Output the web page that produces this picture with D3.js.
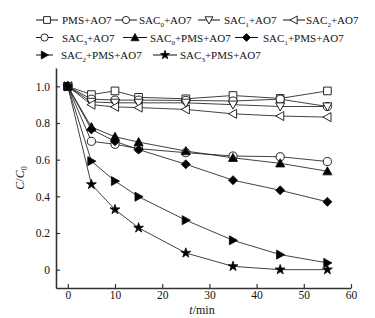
<!DOCTYPE html>
<html><head><meta charset="utf-8">
<script src="https://cdn.jsdelivr.net/npm/d3@7"></script>
<style>body{margin:0;background:#fff}svg{display:block}text{font-family:"Liberation Serif","Times New Roman",serif;fill:#111}</style>
</head><body><svg id="c" width="375" height="318"></svg>
<script>
const times = [0, 5, 10, 15, 25, 35, 45, 55];
const pmsAO7 = [1.0, 0.955, 0.975, 0.94, 0.932, 0.95, 0.934, 0.975];
const sac0AO7 = [1.0, 0.93, 0.925, 0.925, 0.923, 0.92, 0.93, 0.89];
const sac1AO7 = [1.0, 0.915, 0.91, 0.91, 0.91, 0.90, 0.89, 0.89];
const sac2AO7 = [1.0, 0.90, 0.888, 0.884, 0.874, 0.85, 0.838, 0.832];
const sac3AO7 = [1.0, 0.70, 0.684, 0.66, 0.638, 0.62, 0.616, 0.59];
const sac0PmsAO7 = [1.0, 0.778, 0.725, 0.696, 0.647, 0.61, 0.58, 0.537];
const sac1PmsAO7 = [1.0, 0.765, 0.70, 0.655, 0.575, 0.488, 0.433, 0.37];
const sac2PmsAO7 = [1.0, 0.592, 0.483, 0.398, 0.27, 0.16, 0.082, 0.037];
const sac3PmsAO7 = [1.0, 0.465, 0.328, 0.228, 0.091, 0.018, 0.0, 0.0];
const xTicks = [0, 10, 20, 30, 40, 50, 60];
const yTicks = [0, 0.2, 0.4, 0.6, 0.8, 1.0];
const yTickLabels = ["0", "0.2", "0.4", "0.6", "0.8", "1.0"];

const series = [
  {name:"PMS+AO7", sub:null, rest:null, v:pmsAO7, m:"square", fill:false},
  {name:"SAC", sub:"0", rest:"+AO7", v:sac0AO7, m:"circle", fill:false},
  {name:"SAC", sub:"1", rest:"+AO7", v:sac1AO7, m:"tridown", fill:false},
  {name:"SAC", sub:"2", rest:"+AO7", v:sac2AO7, m:"trileft", fill:false},
  {name:"SAC", sub:"3", rest:"+AO7", v:sac3AO7, m:"circle", fill:false},
  {name:"SAC", sub:"0", rest:"+PMS+AO7", v:sac0PmsAO7, m:"triup", fill:true},
  {name:"SAC", sub:"1", rest:"+PMS+AO7", v:sac1PmsAO7, m:"diamond", fill:true},
  {name:"SAC", sub:"2", rest:"+PMS+AO7", v:sac2PmsAO7, m:"triright", fill:true},
  {name:"SAC", sub:"3", rest:"+PMS+AO7", v:sac3PmsAO7, m:"star", fill:true}
];

const svg = d3.select("#c");
const L = 56, R = 351, T = 68, B = 288;
const x = d3.scaleLinear().domain([-2.5, 60]).range([L, R]);
const y = d3.scaleLinear().domain([-0.1, 1.1]).range([B, T]);

function markerPath(m, s) {
  const r = s / 2;
  switch (m) {
    case "square": return `M${-r*0.85},${-r*0.85}h${1.7*r}v${1.7*r}h${-1.7*r}Z`;
    case "circle": return d3.symbol(d3.symbolCircle, Math.PI * (r*0.9) * (r*0.9))();
    case "triup": return `M0,${-r}L${r},${r*0.8}L${-r},${r*0.8}Z`;
    case "tridown": return `M0,${r}L${r},${-r*0.8}L${-r},${-r*0.8}Z`;
    case "trileft": return `M${-r},0L${r*0.8},${-r}L${r*0.8},${r}Z`;
    case "triright": return `M${r},0L${-r*0.8},${-r}L${-r*0.8},${r}Z`;
    case "diamond": return `M0,${-r}L${r},0L0,${r}L${-r},0Z`;
    case "star": return d3.symbol(d3.symbolStar, s * s * 0.3)();
  }
}

// axes
const gx = svg.append("g").attr("transform", `translate(0,${B})`)
  .call(d3.axisBottom(x).tickValues(xTicks).tickSizeInner(-4).tickSizeOuter(0).tickPadding(3));
const gy = svg.append("g").attr("transform", `translate(${L},0)`)
  .call(d3.axisLeft(y).tickValues(yTicks).tickFormat((d,i)=>yTickLabels[i]).tickSizeInner(-4).tickSizeOuter(0).tickPadding(6));
[gx, gy].forEach(g => {
  g.select(".domain").attr("stroke", "#333").attr("stroke-width", 1.6);
  g.selectAll(".tick line").attr("stroke", "#333").attr("stroke-width", 1.2);
  g.selectAll(".tick text").attr("font-family", "Liberation Serif, serif").attr("font-size", 11.5).attr("fill", "#111");
});
gx.selectAll(".tick text").attr("dy", "0.71em");

// lines and markers
const line = d3.line().x((d, i) => x(times[i])).y(d => y(d));
series.forEach(s => {
  svg.append("path").attr("d", line(s.v)).attr("fill", "none").attr("stroke", "#111").attr("stroke-width", 0.8);
});
series.forEach(s => {
  svg.append("g").selectAll("path").data(s.v).join("path")
    .attr("transform", (d, i) => `translate(${x(times[i])},${y(d)})`)
    .attr("d", markerPath(s.m, s.m === "star" ? 10 : 9))
    .attr("fill", s.fill ? "#000" : "#fff")
    .attr("stroke", "#111").attr("stroke-width", 0.9);
});

// axis titles
const yl = svg.append("text").attr("transform", `translate(24,${(T+B)/2}) rotate(-90)`)
  .attr("text-anchor", "middle").attr("font-size", 12);
yl.append("tspan").attr("font-style", "italic").text("C");
yl.append("tspan").text("/");
yl.append("tspan").attr("font-style", "italic").text("C");
yl.append("tspan").attr("font-size", 8).attr("dy", 3).text("0");

const xl = svg.append("text").attr("x", 202).attr("y", 314).attr("text-anchor", "middle").attr("font-size", 12);
xl.append("tspan").attr("font-style", "italic").text("t");
xl.append("tspan").text("/min");

// legend
const legendRows = [
  [{i:0, x:36}, {i:1, x:115}, {i:2, x:198}, {i:3, x:283}],
  [{i:4, x:36}, {i:5, x:123}, {i:6, x:235}],
  [{i:7, x:36}, {i:8, x:153}]
];
const rowY = [20, 37.5, 55];
const lineLen = [[22,22,22,22],[17,24,23],[17,24]];
const textStart = [[62,139,224,306],[62,150,263],[61,180]];
legendRows.forEach((row, ri) => {
  row.forEach((it, k) => {
    const s = series[it.i];
    const cy = rowY[ri];
    const len = lineLen[ri][k];
    svg.append("line").attr("x1", it.x).attr("x2", it.x + len).attr("y1", cy).attr("y2", cy)
      .attr("stroke", "#111").attr("stroke-width", 1);
    svg.append("path").attr("transform", `translate(${it.x + len/2},${cy})`)
      .attr("d", markerPath(s.m, s.m === "star" ? 9 : 8))
      .attr("fill", s.fill ? "#000" : "#fff").attr("stroke", "#111").attr("stroke-width", 0.9);
    const t = svg.append("text").attr("x", textStart[ri][k]).attr("y", cy + 4).attr("font-size", 11);
    t.append("tspan").text(s.name);
    if (s.sub) {
      t.append("tspan").attr("font-size", 7).attr("dy", 3).text(s.sub);
      t.append("tspan").attr("dy", -3).text(s.rest);
    }
  });
});
</script></body></html>
